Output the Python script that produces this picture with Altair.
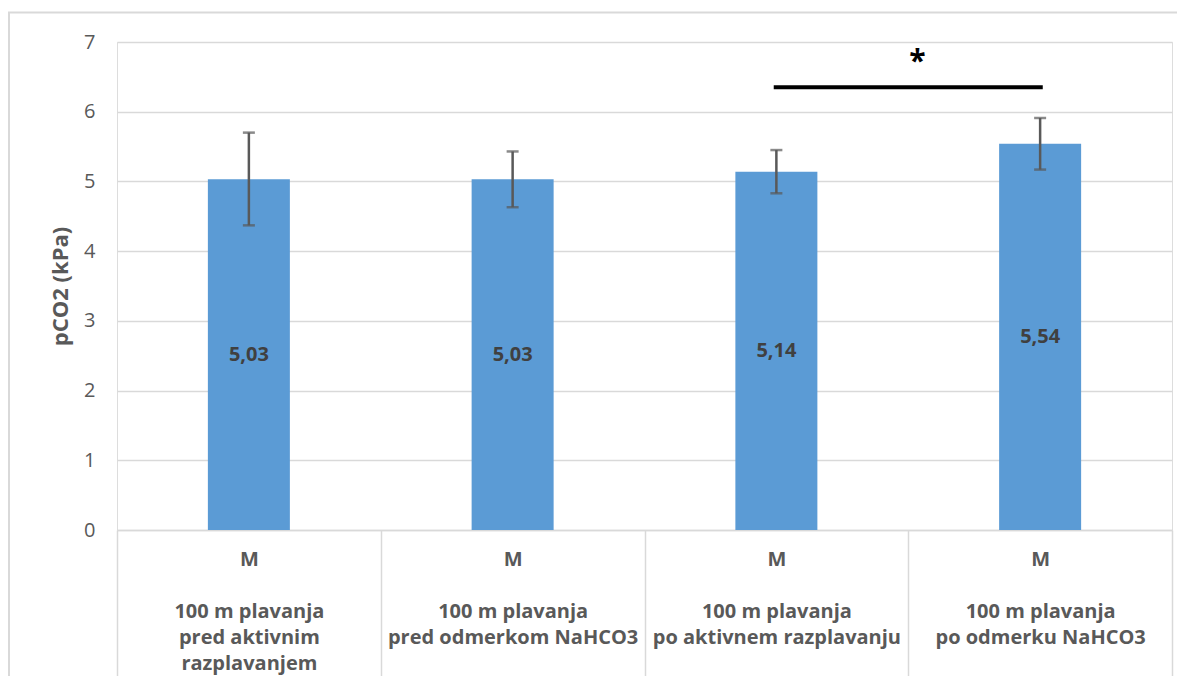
import altair as alt
import pandas as pd

# ---- data ----
groups = ["M", "M", "M", "M"]
conditions = [
    ["100 m plavanja", "pred aktivnim", "razplavanjem"],
    ["100 m plavanja", "pred odmerkom NaHCO3"],
    ["100 m plavanja", "po aktivnem razplavanju"],
    ["100 m plavanja", "po odmerku NaHCO3"],
]
values = [5.03, 5.03, 5.14, 5.54]
err_low = [4.37, 4.63, 4.83, 5.17]
err_high = [5.70, 5.43, 5.45, 5.91]

# significance bracket (x in category-index units, y in kPa)
sig_x = [2.49, 3.51]
sig_y = 6.35
star_x = 3.035
star_y = 6.58
star_text = "*"

y_title = "pCO2 (kPa)"

BLANK = "\u2800"
keys = ["|".join([g, BLANK] + c) for g, c in zip(groups, conditions)]
df = pd.DataFrame({"key": keys, "value": values, "lo": err_low, "hi": err_high})

FONT = "Open Sans"
GRAY = "#595959"
LINE = "#D9D9D9"
BLUE = "#5B9BD5"

x_enc = alt.X(
    "key:N",
    sort=keys,
    title=None,
    scale=alt.Scale(paddingInner=0, paddingOuter=0),
    axis=alt.Axis(
        labelExpr="split(datum.label, '|')",
        labelFont=FONT,
        labelFontSize=20,
        labelFontWeight="bold",
        labelColor=GRAY,
        labelLineHeight=26,
        labelAngle=0,
        labelBaseline="top",
        labelPadding=-131,
        labelLimit=400,
        ticks=True,
        tickBand="extent",
        tickSize=150,
        tickColor=LINE,
        tickWidth=1.5,
        domainColor=LINE,
        domainWidth=1.5,
        grid=False,
    ),
)

y_scale = alt.Scale(domain=[0, 7], nice=False)
y_axis = alt.Axis(
    values=[0, 1, 2, 3, 4, 5, 6, 7],
    format="d",
    domain=False,
    ticks=False,
    labelFont=FONT,
    labelFontSize=20,
    labelColor=GRAY,
    labelPadding=22,
    grid=True,
    gridColor=LINE,
    gridWidth=1.5,
    title=y_title,
    titleFont=FONT,
    titleFontSize=22,
    titleFontWeight="bold",
    titleColor=GRAY,
    titlePadding=11,
)

base = alt.Chart(df)

bars = base.mark_bar(color=BLUE, width=82).encode(
    x=x_enc,
    y=alt.Y("value:Q", scale=y_scale, axis=y_axis),
)

err_rule = base.mark_rule(color=GRAY, strokeWidth=2.5).encode(
    x=alt.X("key:N", sort=keys), y="lo:Q", y2="hi:Q"
)
cap_lo = base.mark_tick(color=GRAY, size=12, thickness=2.5).encode(
    x=alt.X("key:N", sort=keys), y="lo:Q"
)
cap_hi = base.mark_tick(color=GRAY, size=12, thickness=2.5).encode(
    x=alt.X("key:N", sort=keys), y="hi:Q"
)

labels = base.transform_calculate(
    mid="datum.value / 2",
    txt="replace(format(datum.value, '.2f'), '.', ',')",
).mark_text(
    font=FONT, fontSize=20, fontWeight="bold", color="#404040", baseline="middle"
).encode(
    x=alt.X("key:N", sort=keys), y="mid:Q", text="txt:N"
)

main = alt.layer(bars, err_rule, cap_lo, cap_hi, labels)

sig_df = pd.DataFrame({"x1": [sig_x[0]], "x2": [sig_x[1]], "y": [sig_y],
                       "sx": [star_x], "sy": [star_y], "t": [star_text]})
xq = alt.Scale(domain=[0, 4], nice=False, zero=False)
sig_line = alt.Chart(sig_df).mark_rule(color="black", strokeWidth=4).encode(
    x=alt.X("x1:Q", scale=xq, axis=None),
    x2="x2:Q",
    y=alt.Y("y:Q", scale=y_scale),
)
sig_star = alt.Chart(sig_df).mark_text(
    font=FONT, fontSize=30, fontWeight="bold", color="black", baseline="alphabetic"
).encode(
    x=alt.X("sx:Q", scale=xq, axis=None),
    y=alt.Y("sy:Q", scale=y_scale),
    text="t:N",
)
sig = alt.layer(sig_line, sig_star)

# outer chart frame (decoration)
frame = alt.Chart(pd.DataFrame({"d": [0]})).mark_rect(
    fill=None, stroke=LINE, strokeWidth=2, clip=False
).encode(
    x=alt.value(-108), x2=alt.value(1090), y=alt.value(-29.5), y2=alt.value(700)
)

chart = (
    alt.layer(frame, main, sig)
    .resolve_scale(x="independent")
    .properties(
        width=1055,
        height=488,
        autosize=alt.AutoSizeParams(type="none"),
        padding={"left": 109, "top": 34, "right": 5, "bottom": 146},
    )
    .configure_view(stroke=None)
    .configure(background="white")
)

chart.save("out.html", embed_options={"renderer": "svg", "actions": False})
